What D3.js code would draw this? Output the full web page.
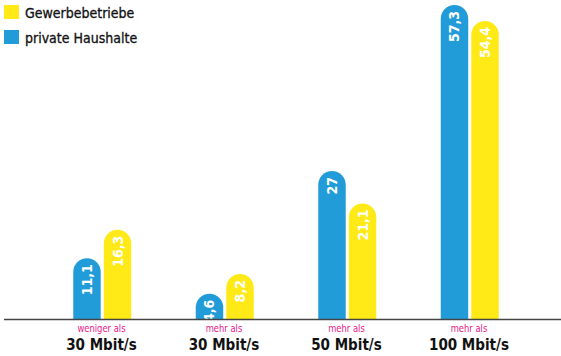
<!DOCTYPE html>
<html><head><meta charset="utf-8">
<script src="https://cdn.jsdelivr.net/npm/d3@7"></script>
<style>body{margin:0;background:#fff}svg{display:block}</style>
</head><body><svg id="c" width="561" height="356"></svg>
<script>
const categories = ["30 Mbit/s", "30 Mbit/s ", "50 Mbit/s", "100 Mbit/s"];
const prefixes = ["weniger als", "mehr als", "mehr als", "mehr als"];
const seriesNames = ["private Haushalte", "Gewerbebetriebe"];
const privateHaushalte = [11.1, 4.6, 27, 57.3];
const gewerbebetriebe = [16.3, 8.2, 21.1, 54.4];
const labelsPrivate = ["11,1", "4,6", "27", "57,3"];
const labelsGewerbe = ["16,3", "8,2", "21,1", "54,4"];
const colors = {"private Haushalte": "#229cd8", "Gewerbebetriebe": "#ffe916"};

const svg = d3.select("#c");
const font = "'DejaVu Sans Condensed', 'DejaVu Sans', sans-serif";
const y = d3.scaleLinear().domain([0, 57.3]).range([319, 5]);
const x0 = d3.scaleBand().domain(categories).range([40.25, 530.25]);
const x1 = d3.scaleBand().domain(seriesNames).range([33, 91]).paddingInner(0.1);

const data = categories.map((c, i) => ({
  cat: c,
  vals: [
    {s: seriesNames[0], v: privateHaushalte[i], t: labelsPrivate[i]},
    {s: seriesNames[1], v: gewerbebetriebe[i], t: labelsGewerbe[i]}
  ]
}));

function barPath(x, w, top, bottom) {
  const r = w / 2;
  return `M${x},${bottom}V${top + r}A${r},${r} 0 0 1 ${x + w},${top + r}V${bottom}Z`;
}

const g = svg.selectAll("g.grp").data(data).join("g")
  .attr("transform", d => `translate(${x0(d.cat)},0)`);

g.selectAll("path").data(d => d.vals).join("path")
  .attr("d", d => barPath(x1(d.s), x1.bandwidth(), y(d.v), y(0)))
  .attr("fill", d => colors[d.s]);

g.selectAll("text.val").data(d => d.vals).join("text")
  .attr("class", "val")
  .attr("transform", d => `translate(${x1(d.s) + x1.bandwidth() / 2 + 5},${y(d.v) + 6}) rotate(-90)`)
  .attr("text-anchor", "end")
  .attr("fill", "#fff")
  .attr("font-family", font)
  .attr("font-weight", "bold")
  .attr("font-size", 14)
  .text(d => d.t);

svg.append("line").attr("x1", 4).attr("x2", 561).attr("y1", 319.5).attr("y2", 319.5)
  .attr("stroke", "#444").attr("stroke-width", 1.5);

const lab = svg.selectAll("g.lab").data(categories).join("g")
  .attr("transform", d => `translate(${x0(d) + x0.bandwidth() / 2},0)`);
lab.append("text").attr("transform", "translate(0,332) scale(0.85,1)").attr("text-anchor", "middle")
  .attr("fill", "#e6198a").attr("font-family", font).attr("font-size", 11)
  .text((d, i) => prefixes[i]);
lab.append("text").attr("y", 350).attr("text-anchor", "middle")
  .attr("fill", "#111").attr("font-family", font).attr("font-weight", "bold").attr("font-size", 15)
  .text(d => d.trim());

const legendItems = ["Gewerbebetriebe", "private Haushalte"];
const lg = svg.selectAll("g.leg").data(legendItems).join("g")
  .attr("transform", (d, i) => `translate(4,${5 + i * 25})`);
lg.append("rect").attr("width", 15).attr("height", 14).attr("fill", d => colors[d]);
lg.append("text").attr("x", 21).attr("y", 12.5)
  .attr("fill", "#111").attr("font-family", font).attr("font-size", 14)
  .attr("stroke", "#111").attr("stroke-width", 0.3)
  .text(d => d);
</script></body></html>
